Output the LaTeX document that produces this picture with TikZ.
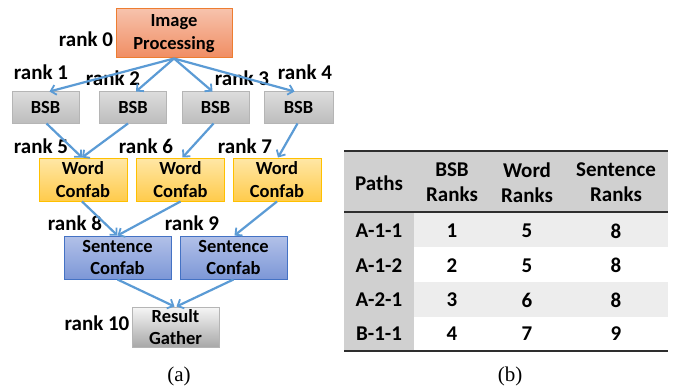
\documentclass[tikz,border=0pt]{standalone}
\usepackage{fontspec}
\setmainfont{Liberation Serif}
\newfontfamily\carlitofont{Carlito}
\usetikzlibrary{arrows.meta,calc}
\definecolor{arrowblue}{HTML}{5B9BD5}
\definecolor{ipTop}{HTML}{F7C2AC}
\definecolor{ipBot}{HTML}{F08D62}
\definecolor{ipLine}{HTML}{ED7D31}
\definecolor{bsbTop}{HTML}{DCDCDC}
\definecolor{bsbBot}{HTML}{BDBDBD}
\definecolor{bsbLine}{HTML}{B5B5B5}
\definecolor{wTop}{HTML}{FFE7A6}
\definecolor{wBot}{HTML}{FFCB4C}
\definecolor{wLine}{HTML}{FFC000}
\definecolor{sTop}{HTML}{B2C1E8}
\definecolor{sBot}{HTML}{7D97D7}
\definecolor{sLine}{HTML}{4472C4}
\definecolor{rTop}{HTML}{F6F6F6}
\definecolor{rBot}{HTML}{A8A8A8}
\definecolor{hdrgray}{HTML}{D0D0D0}
\definecolor{rowgray}{HTML}{EDEDED}
\definecolor{rulegray}{HTML}{2E2E2E}
\tikzset{
  box/.style={draw, line width=1pt, inner sep=0pt, align=center,
    font=\carlitofont\bfseries\fontsize{18.5}{22.5}\selectfont},
  ipbox/.style={box, draw=ipLine, top color=ipTop, bottom color=ipBot},
  bsbbox/.style={box, draw=bsbLine, top color=bsbTop, bottom color=bsbBot,
    minimum width=67pt, minimum height=31pt},
  wordbox/.style={box, draw=wLine, top color=wTop, bottom color=wBot,
    minimum width=88pt, minimum height=43pt},
  sentbox/.style={box, draw=sLine, top color=sTop, bottom color=sBot,
    minimum width=107pt, minimum height=43pt},
  resbox/.style={box, draw=bsbLine, top color=rTop, bottom color=rBot,
    minimum width=87pt, minimum height=40pt},
  ranklbl/.style={inner sep=0pt, font=\carlitofont\bfseries\fontsize{21}{24}\selectfont},
  flow/.style={draw=arrowblue, line width=2.2pt,
    -{Straight Barb[length=5pt,width=10pt,line width=1.8pt]}},
  tcell/.style={inner sep=0pt, align=center,
    font=\carlitofont\bfseries\fontsize{21}{25}\selectfont},
  caption/.style={inner sep=0pt, font=\fontsize{21}{24}\selectfont},
  trule/.style={draw=rulegray, line width=2.2pt}
}
\begin{document}
\begin{tikzpicture}[x=1pt,y=-1pt]
\useasboundingbox[fill=white] (0,0) rectangle (684,385);

% ---------- (a) flow graph ----------
\node[ipbox, minimum width=116pt, minimum height=49pt] (ip) at (174,33.5) {Image\\Processing};

\node[bsbbox] (b1) at (45.5,107.5) {BSB};
\node[bsbbox] (b2) at (133,107.5) {BSB};
\node[bsbbox] (b3) at (215.5,107.5) {BSB};
\node[bsbbox, minimum width=69pt] (b4) at (298.5,107.5) {BSB};

\node[wordbox] (w1) at (83,179.5) {Word\\Confab};
\node[wordbox] (w2) at (180.5,179.5) {Word\\Confab};
\node[wordbox] (w3) at (277,179.5) {Word\\Confab};

\node[sentbox] (s1) at (117.5,257.5) {Sentence\\Confab};
\node[sentbox] (s2) at (233.5,257.5) {Sentence\\Confab};

\node[resbox] (res) at (175.5,327) {Result\\Gather};

% rank labels
\node[ranklbl] (r0) at (86,39) {rank 0};
\node[ranklbl] (r1) at (41,72) {rank 1};
\node[ranklbl] (r2) at (113,78) {rank 2};
\node[ranklbl] (r3) at (242,78) {rank 3};
\node[ranklbl] (r4) at (305,72) {rank 4};
\node[ranklbl] (r5) at (41,146) {rank 5};
\node[ranklbl] (r6) at (146,146) {rank 6};
\node[ranklbl] (r7) at (245,146) {rank 7};
\node[ranklbl] (r8) at (75,223) {rank 8};
\node[ranklbl] (r9) at (192,223) {rank 9};
\node[ranklbl] (r10) at (97,323) {rank 10};

% connectors
\draw[flow] (ip.south) -- ([xshift=4pt]b1.north);
\draw[flow] (ip.south) -- ([xshift=3pt]b2.north);
\draw[flow] (ip.south) -- ([xshift=-3pt]b3.north);
\draw[flow] (ip.south) -- ([xshift=-4pt]b4.north);

\draw[flow] ([xshift=1pt]b1.south) -- ([xshift=-1pt]w1.north);
\draw[flow] ([xshift=-5pt]b2.south) -- ([xshift=-1pt]w1.north);
\draw[flow] ([xshift=-2pt]b3.south) -- ([xshift=2pt]w2.north);
\draw[flow] ([xshift=-1pt]b4.south) -- ([xshift=1pt]w3.north);

\draw[flow] ([xshift=-1pt]w1.south) -- (s1.north);
\draw[flow] (w2.south) -- (s1.north);
\draw[flow] (w3.south) -- ([xshift=1pt]s2.north);

\draw[flow] (s1.south) -- ([xshift=-1pt]res.north);
\draw[flow] (s2.south) -- ([xshift=1pt]res.north);

\node[caption] (capa) at (179,376) {(a)};

% ---------- (b) table ----------
\fill[hdrgray] (344,151) rectangle (668,212);
\fill[hdrgray] (344,212) rectangle (414,351);
\fill[rowgray] (414,212) rectangle (668,247);
\fill[rowgray] (414,282) rectangle (668,317);
\draw[trule] (344,151) -- (668,151);
\draw[trule] (344,212) -- (668,212);
\draw[trule] (344,351) -- (668,351);

\node[tcell] (hp) at (379,183) {Paths};
\node[tcell] (hb) at (452,182.5) {BSB\\Ranks};
\node[tcell] (hw) at (527,182.5) {Word\\Ranks};
\node[tcell] (hs) at (616,182.5) {Sentence\\Ranks};

\node[tcell] (p1) at (379,231) {A-1-1};
\node[tcell] (p2) at (379,265.5) {A-1-2};
\node[tcell] (p3) at (379,300) {A-2-1};
\node[tcell] (p4) at (379,334) {B-1-1};

\node[tcell] (b1v) at (452,231) {1};
\node[tcell] (b2v) at (452,265.5) {2};
\node[tcell] (b3v) at (452,300) {3};
\node[tcell] (b4v) at (452,334) {4};

\node[tcell] (w1v) at (527,231) {5};
\node[tcell] (w2v) at (527,265.5) {5};
\node[tcell] (w3v) at (527,300) {6};
\node[tcell] (w4v) at (527,334) {7};

\node[tcell] (s1v) at (616,231) {8};
\node[tcell] (s2v) at (616,265.5) {8};
\node[tcell] (s3v) at (616,300) {8};
\node[tcell] (s4v) at (616,334) {9};

\node[caption] (capb) at (510,376) {(b)};
\end{tikzpicture}
\end{document}
